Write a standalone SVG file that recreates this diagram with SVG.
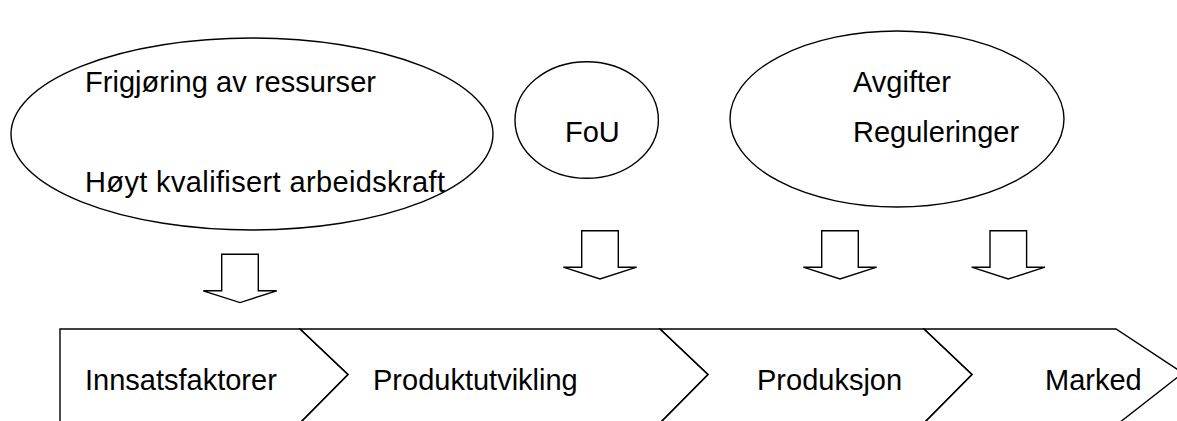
<svg xmlns="http://www.w3.org/2000/svg" width="1177" height="421" viewBox="0 0 1177 421">
<style>
  .shape { fill: none; stroke: #000; stroke-width: 1.4; stroke-linejoin: miter; }
  .arrow { fill: #fff; stroke: #000; stroke-width: 1.4; stroke-linejoin: miter; }
  .lbl { font-family: "Liberation Sans", Arial, sans-serif; font-size: 29px; fill: #000; }
</style>
<defs>
  <path id="blockArrow" d="M -18.3,0 H 18.3 V 36.5 H 36.7 L 0,48.3 L -36.7,36.5 H -18.3 Z"/>
</defs>
<rect width="1177" height="421" fill="#fff"/>

<g id="node-ressurser">
  <ellipse class="shape" cx="252" cy="134" rx="241" ry="96"/>
  <text class="lbl" x="85" y="92" textLength="291" lengthAdjust="spacing">Frigjøring av ressurser</text>
  <text class="lbl" x="85" y="192" textLength="360" lengthAdjust="spacing">Høyt kvalifisert arbeidskraft</text>
</g>

<g id="node-fou">
  <ellipse class="shape" cx="586.7" cy="120" rx="71.7" ry="58.3"/>
  <text class="lbl" x="565" y="141.7">FoU</text>
</g>

<g id="node-avgifter">
  <ellipse class="shape" cx="897" cy="119" rx="167" ry="88"/>
  <text class="lbl" x="853" y="91.7">Avgifter</text>
  <text class="lbl" x="853" y="141.7">Reguleringer</text>
</g>

<g id="node-innsatsfaktorer">
  <polygon class="shape" points="60,423 60,329 300,329 348,374.5 300,423"/>
  <text class="lbl" x="85" y="390">Innsatsfaktorer</text>
</g>

<g id="node-produktutvikling">
  <polygon class="shape" points="300,329 660,329 708,374.5 660,423 300,423 348,374.5"/>
  <text class="lbl" x="373" y="390">Produktutvikling</text>
</g>

<g id="node-produksjon">
  <polygon class="shape" points="660,329 924,329 972,374.5 924,423 660,423 708,374.5"/>
  <text class="lbl" x="757" y="390">Produksjon</text>
</g>

<g id="node-marked">
  <polygon class="shape" points="924,329 1116,329 1183,373 1119,423 924,423 972,374.5"/>
  <text class="lbl" x="1045" y="390">Marked</text>
</g>

<g id="connectors">
  <use href="#blockArrow" class="arrow" transform="translate(240,254.3)"/>
  <use href="#blockArrow" class="arrow" transform="translate(600,230.7)"/>
  <use href="#blockArrow" class="arrow" transform="translate(840,230.7)"/>
  <use href="#blockArrow" class="arrow" transform="translate(1008.3,230.7)"/>
</g>
</svg>
